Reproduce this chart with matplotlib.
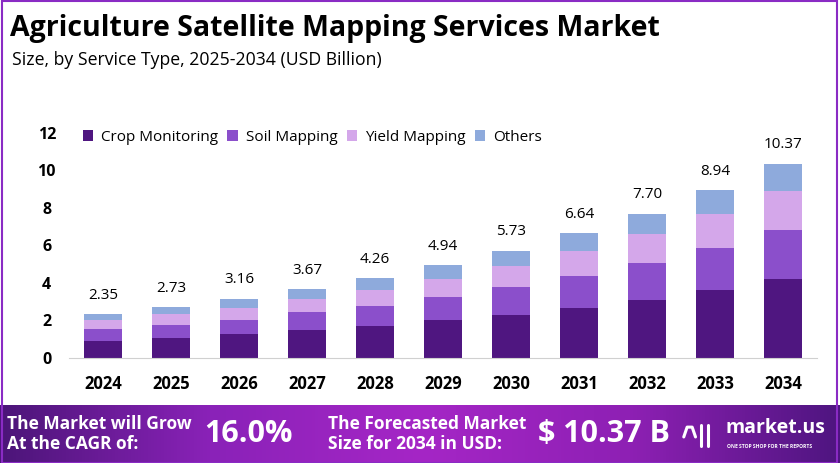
import numpy as np
import matplotlib.pyplot as plt
from matplotlib.colors import LinearSegmentedColormap
from matplotlib.patches import Rectangle

years = ["2024", "2025", "2026", "2027", "2028", "2029", "2030", "2031", "2032", "2033", "2034"]
crop = [0.93, 1.09, 1.29, 1.50, 1.71, 2.00, 2.30, 2.68, 3.11, 3.64, 4.21]
soil = [0.59, 0.68, 0.75, 0.93, 1.08, 1.23, 1.47, 1.68, 1.94, 2.23, 2.61]
yield_ = [0.52, 0.59, 0.64, 0.73, 0.85, 1.00, 1.16, 1.33, 1.55, 1.81, 2.09]
others = [0.31, 0.37, 0.48, 0.51, 0.62, 0.71, 0.80, 0.95, 1.10, 1.26, 1.46]
totals = [2.35, 2.73, 3.16, 3.67, 4.26, 4.94, 5.73, 6.64, 7.70, 8.94, 10.37]

series = [("Crop Monitoring", crop, "#4f1680"),
          ("Soil Mapping", soil, "#8b4fcb"),
          ("Yield Mapping", yield_, "#d4a7ea"),
          ("Others", others, "#8eaadc")]

font = "Open Sans"
fig = plt.figure(figsize=(8.4, 4.63), dpi=100)

# chart
ax = fig.add_axes([0.0821, 0.2268, 0.8905, 0.486])
x = np.arange(len(years))
bottom = np.zeros(len(years))
for name, vals, col in series:
    ax.bar(x, vals, 0.56, bottom=bottom, color=col, label=name)
    bottom += np.array(vals)
for xi, t in zip(x, totals):
    ax.text(xi, t + 0.6, f"{t:.2f}", ha="center", va="bottom", fontsize=11, family=font)

ax.set_xlim(-0.5, 10.5)
ax.set_ylim(0, 12)
ax.set_yticks([0, 2, 4, 6, 8, 10, 12])
ax.set_xticks(x)
ax.set_xticklabels(years, fontsize=12, fontweight="bold", family=font)
for lab in ax.get_yticklabels():
    lab.set_fontsize(11.5)
    lab.set_fontweight("bold")
    lab.set_family(font)
    lab.set_horizontalalignment("center")
ax.tick_params(length=0)
ax.tick_params(axis="y", pad=16)
ax.tick_params(axis="x", pad=12)
for s in ["top", "right", "left"]:
    ax.spines[s].set_visible(False)
ax.spines["bottom"].set_color("#d0d0d0")
ax.legend(loc="upper left", bbox_to_anchor=(0.0, 1.075), ncol=4, frameon=False,
          prop={"family": font, "size": 11}, handlelength=0.7, handleheight=0.7,
          columnspacing=0.6, handletextpad=0.5)

# title
fig.text(0.012, 0.938, "Agriculture Satellite Mapping Services Market", fontsize=20.5,
         fontweight="bold", family=font, va="center")
fig.text(0.014, 0.87, "Size, by Service Type, 2025-2034 (USD Billion)", fontsize=12.7,
         family=font, va="center")

# border
fig.add_artist(Rectangle((0.002, 0.0), 0.995, 0.998, transform=fig.transFigure,
                         fill=False, edgecolor="#8a2bc4", lw=1.5))

# banner
bax = fig.add_axes([0, 0, 1, 0.125])
cmap = LinearSegmentedColormap.from_list("b", ["#4c1579", "#8a22b8", "#a526c6", "#8e20b4", "#4e1580"])
bax.imshow(np.linspace(0, 1, 256).reshape(1, -1), aspect="auto", cmap=cmap, extent=[0, 1, 0, 1])
bax.set_xlim(0, 1)
bax.set_ylim(0, 1)
bax.axis("off")
bax.text(0.008, 0.5, "The Market will Grow\nAt the CAGR of:", color="white", fontsize=12.5,
         fontweight="bold", family=font, va="center", linespacing=1.1)
bax.text(0.243, 0.5, "16.0%", color="white", fontsize=22, fontweight="bold", family=font,
         va="center")
bax.text(0.39, 0.5, "The Forecasted Market\nSize for 2034 in USD:", color="white", fontsize=12.5,
         fontweight="bold", family=font, va="center", linespacing=1.1)
bax.text(0.64, 0.5, "$ 10.37 B", color="white", fontsize=22, fontweight="bold", family=font,
         va="center")
# logo mark
bax.plot([0.814, 0.818, 0.824, 0.828], [0.45, 0.62, 0.62, 0.45], color="white", lw=2.2,
         solid_capstyle="round")
bax.plot([0.835, 0.835], [0.3, 0.65], color="white", lw=2.2, solid_capstyle="round")
bax.plot([0.843, 0.843], [0.3, 0.65], color="white", lw=2.2, solid_capstyle="round")
bax.text(0.864, 0.6, "market.us", color="white", fontsize=14, fontweight="bold", family=font,
         va="center")
bax.text(0.866, 0.28, "ONE STOP SHOP FOR THE REPORTS", color="white", fontsize=3.6, family=font,
         va="center", fontweight="bold")

fig.savefig("out.png", dpi=100)
